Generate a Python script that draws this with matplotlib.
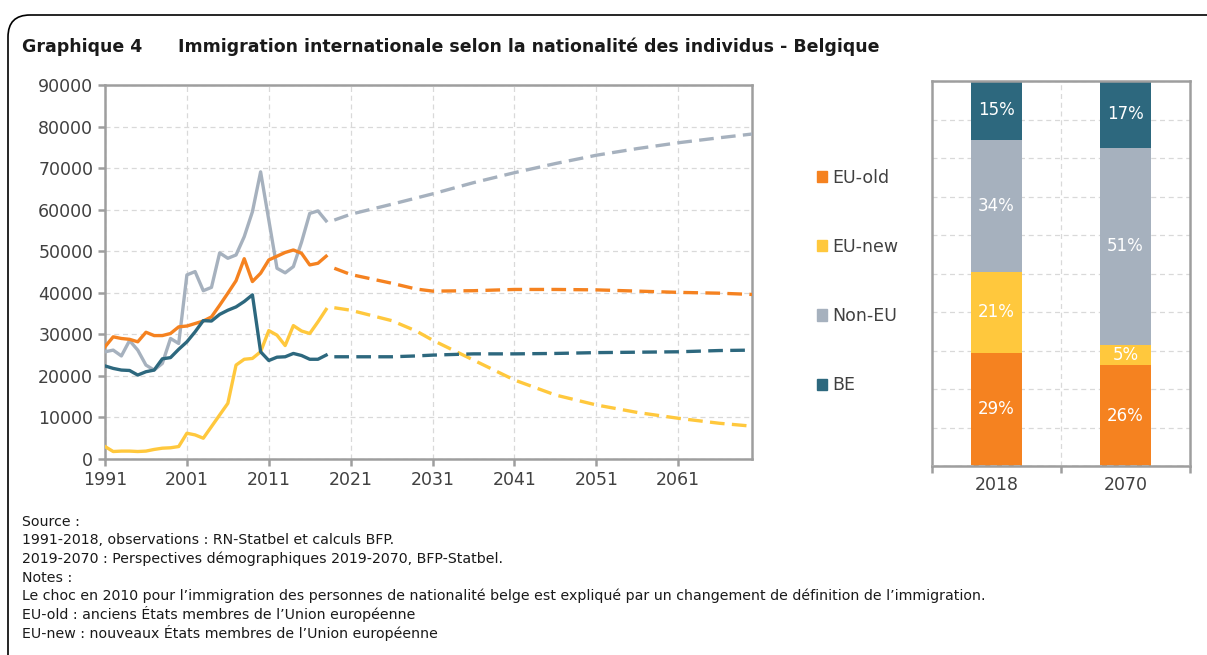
import numpy as np
import matplotlib.pyplot as plt
from matplotlib.patches import FancyBboxPatch, Patch

# observed values 1991-2018
years_obs = list(range(1991, 2019))
eu_old_obs = [27000, 29400, 29000, 28800, 28200, 30500, 29700, 29700, 30200, 31800,
              32000, 32600, 33200, 34200, 37000, 39900, 42900, 48200, 42700, 44700,
              47900, 48800, 49700, 50300, 49500, 46700, 47100, 48800]
eu_new_obs = [3000, 1800, 1900, 1900, 1800, 1900, 2300, 2600, 2700, 3000,
              6200, 5800, 5000, 7800, 10600, 13400, 22600, 24000, 24200, 25800,
              30900, 29800, 27300, 32100, 30800, 30200, 33000, 36000]
non_eu_obs = [25800, 26200, 24800, 28500, 26200, 22600, 21400, 23000, 29000, 27800,
              44300, 45100, 40500, 41300, 49600, 48300, 49100, 53500, 59500, 69100,
              57500, 45900, 44800, 46300, 52200, 59100, 59700, 57300]
be_obs = [22400, 21800, 21400, 21300, 20200, 21000, 21400, 24100, 24400, 26400,
          28200, 30600, 33300, 33200, 34800, 35800, 36600, 37900, 39500, 25800,
          23700, 24500, 24600, 25400, 24900, 24000, 24000, 25000]

# projections 2019-2070
years_proj = [2019, 2021, 2026, 2029, 2031, 2036, 2041, 2046, 2051, 2056, 2061, 2066, 2070]
eu_old_proj = [45900, 44400, 42300, 40900, 40400, 40500, 40800, 40800, 40700, 40400, 40100, 39900, 39600]
eu_new_proj = [36400, 35800, 33300, 30800, 28600, 23800, 19000, 15400, 13000, 11200, 9800, 8600, 7900]
non_eu_proj = [57500, 58900, 61300, 62800, 63800, 66500, 68900, 71100, 73100, 74700, 76100, 77300, 78200]
be_proj = [24600, 24600, 24600, 24800, 25000, 25300, 25300, 25400, 25600, 25700, 25800, 26100, 26200]

# shares (%) for the stacked bars
bar_years = ['2018', '2070']
share_eu_old = [29.4, 26.2]
share_eu_new = [21.1, 5.2]
share_non_eu = [34.3, 51.3]
share_be = [15.2, 17.3]

names = ['EU-old', 'EU-new', 'Non-EU', 'BE']
colors = ['#F58220', '#FFC83D', '#A6B1BE', '#2D687E']
text_col = '#404040'
spine_col = '#9E9E9E'
grid_col = '#D9D9D9'

fig = plt.figure(figsize=(12.07, 6.55), dpi=100)

# rounded frame drawn in pixel units
bg = fig.add_axes([0, 0, 1, 1], zorder=-1)
bg.set_xlim(0, 1207)
bg.set_ylim(655, 0)
bg.axis('off')
bg.add_patch(FancyBboxPatch((8, 15), 1400, 800, boxstyle='round,pad=0,rounding_size=22',
                            fill=False, lw=1.2, ec='black'))

fig.text(22 / 1207, 1 - 47 / 655, 'Graphique 4', fontsize=12.5, fontweight='bold',
         color='#1a1a1a', va='center')
fig.text(178 / 1207, 1 - 47 / 655,
         'Immigration internationale selon la nationalité des individus - Belgique',
         fontsize=12.5, fontweight='bold', color='#1a1a1a', va='center')

# line chart
ax = fig.add_axes([105 / 1207, 1 - 459 / 655, 647 / 1207, 374 / 655])
obs = [eu_old_obs, eu_new_obs, non_eu_obs, be_obs]
proj = [eu_old_proj, eu_new_proj, non_eu_proj, be_proj]
order = [2, 0, 1, 3]
for i in order:
    ax.plot(years_obs, obs[i], color=colors[i], lw=2.4, zorder=3, solid_joinstyle='round')
    ax.plot(years_proj, proj[i], color=colors[i], lw=2.4, ls=(0, (4.4, 2.2)), zorder=3)

ax.set_xlim(1991, 2070)
ax.set_ylim(0, 90000)
ax.set_xticks(range(1991, 2062, 10))
ax.set_yticks(range(0, 90001, 10000))
ax.grid(True, ls=(0, (4, 3)), color=grid_col, lw=0.9, zorder=0)
for s in ax.spines.values():
    s.set_color(spine_col)
    s.set_linewidth(1.8)
ax.tick_params(axis='both', colors=spine_col, width=1.8, length=5,
               labelsize=12.5, labelcolor=text_col)

# stacked bars
bx = fig.add_axes([932 / 1207, 1 - 466 / 655, 258 / 1207, 385 / 655])
xpos = np.arange(len(bar_years))
shares = [share_eu_old, share_eu_new, share_non_eu, share_be]
bottom = np.zeros(len(bar_years))
for i, vals in enumerate(shares):
    bx.bar(xpos, vals, width=0.4, bottom=bottom, color=colors[i], zorder=2)
    for x, b, v in zip(xpos, bottom, vals):
        bx.text(x, b + v / 2, f'{v:.0f}%', ha='center', va='center',
                color='white', fontsize=12, zorder=4)
    bottom = bottom + np.array(vals)

bx.set_xlim(-0.5, 1.5)
bx.set_ylim(0, 100)
bx.set_yticks(range(0, 101, 10))
bx.yaxis.grid(True, ls=(0, (4, 3)), color=grid_col, lw=0.9, zorder=0)
bx.axvline(0.5, ls=(0, (4, 3)), color=grid_col, lw=0.9, zorder=0)
bx.axhline(0, ls=(0, (4, 3)), color='#B0B0B0', lw=1.2, zorder=3)
bx.set_xticks(xpos)
bx.set_xticklabels(bar_years)
bx.set_xticks([-0.5, 0.5, 1.5], minor=True)
bx.tick_params(axis='x', which='major', length=0, labelsize=12.5, labelcolor=text_col, pad=7)
bx.tick_params(axis='x', which='minor', length=5, width=1.8, color=spine_col)
bx.tick_params(axis='y', left=False, labelleft=False)
for s in bx.spines.values():
    s.set_color(spine_col)
    s.set_linewidth(1.8)

handles = [Patch(color=c, label=n) for c, n in zip(colors, names)]
fig.legend(handles=handles, loc='upper left', bbox_to_anchor=(808 / 1207, 1 - 160 / 655),
           frameon=False, fontsize=12.5, labelcolor=text_col, handlelength=0.6,
           handleheight=0.6, handletextpad=0.3, labelspacing=2.95, borderpad=0)

notes = ['Source :',
         '1991-2018, observations : RN-Statbel et calculs BFP.',
         '2019-2070 : Perspectives démographiques 2019-2070, BFP-Statbel.',
         'Notes :',
         'Le choc en 2010 pour l\u2019immigration des personnes de nationalité belge est expliqué par un changement de définition de l\u2019immigration.',
         'EU-old : anciens États membres de l\u2019Union européenne',
         'EU-new : nouveaux États membres de l\u2019Union européenne']
for k, line in enumerate(notes):
    fig.text(22 / 1207, 1 - (522 + 18.5 * k) / 655, line, fontsize=10.2,
             color='#1a1a1a', va='center')

fig.savefig('out.png', dpi=100)
